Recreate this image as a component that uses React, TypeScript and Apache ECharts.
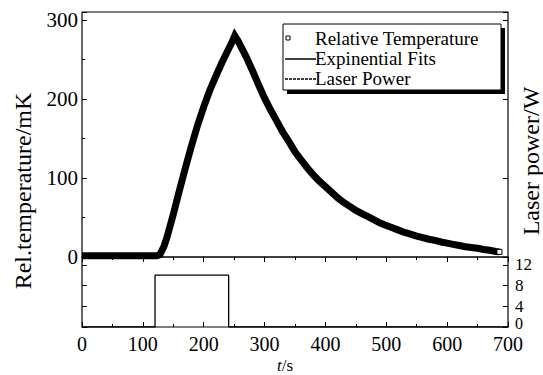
import React, { useEffect, useRef } from 'react';
import * as echarts from 'echarts';

// Relative temperature (mK)
const tempTimes = [0, 30, 60, 90, 110, 123, 128, 135, 140, 150, 160, 170, 180, 190, 200, 210, 220, 230, 240, 246, 251, 256, 262, 270, 280, 290, 300, 310, 320, 330, 340, 350, 360, 370, 380, 390, 400, 410, 420, 430, 440, 450, 460, 470, 480, 490, 500, 510, 520, 530, 540, 550, 560, 570, 580, 590, 600, 610, 620, 630, 640, 650, 660, 670, 680, 686];
const tempValues = [1.5, 1.5, 1.5, 1.5, 1.5, 1.5, 3, 14, 26, 54, 84, 113, 141, 167, 190, 211, 229, 246, 262, 271, 280, 274, 265, 253, 236, 218, 201, 186, 172, 158, 146, 133, 123, 113, 104, 96, 89, 82, 75, 69, 64, 59, 55, 51, 47, 43, 40, 37, 34, 31, 29, 26.5, 24.5, 22.5, 21, 19, 17.5, 16, 14.5, 13, 12, 11, 9.5, 8.5, 7, 6.5];

// Laser power (W)
const laserTimes = [0, 120, 120, 241, 241, 700];
const laserValues = [0, 0, 10, 10, 0, 0];

const xTicks = [0, 100, 200, 300, 400, 500, 600, 700];
const leftTicks = [0, 100, 200, 300];
const rightTicks = [0, 4, 8, 12];

const legendNames = ['Relative Temperature', 'Expinential Fits', 'Laser Power'];

const FONT = 'Liberation Serif';

export default function App() {
  const ref = useRef<HTMLDivElement>(null);
  useEffect(() => {
    if (!ref.current) return;
    const chart = echarts.init(ref.current, null, { renderer: 'svg' });
    const tempData: any[] = tempTimes.map((t, i) => [t, tempValues[i]]);
    const last = tempData.length - 1;
    tempData[last] = {
      value: tempData[last],
      symbol: 'rect',
      symbolSize: 5,
      itemStyle: { color: '#fff', borderColor: '#000', borderWidth: 1 },
    };
    const peakT = tempTimes[tempValues.indexOf(Math.max(...tempValues))];
    const fitData = tempTimes.map((t, i) => [t, tempValues[i]]).filter((d) => d[0] >= peakT);
    const laserData = laserTimes.map((t, i) => [t, laserValues[i]]);

    const tick = { show: true, inside: true, length: 5, lineStyle: { color: '#000', width: 1 } };
    const minor = { show: true, splitNumber: 2, length: 3, lineStyle: { color: '#000', width: 1 } };
    const legendFont = `19px "${FONT}"`;

    const option: any = {
      animation: false,
      backgroundColor: '#fff',
      grid: [
        { left: 82, right: 35, top: 12, height: 245, show: true, borderColor: '#000', borderWidth: 1.2, backgroundColor: 'transparent' },
        { left: 82, right: 35, top: 257, height: 70, show: true, borderColor: '#000', borderWidth: 1.2, backgroundColor: 'transparent' },
      ],
      xAxis: [
        {
          gridIndex: 0, type: 'value', min: 0, max: 700, interval: 100, position: 'top',
          axisLine: { show: false }, axisTick: tick, minorTick: minor, axisLabel: { show: false }, splitLine: { show: false },
        },
        {
          gridIndex: 1, type: 'value', min: 0, max: 700, interval: 100, position: 'bottom',
          axisLine: { show: false }, axisTick: tick, minorTick: minor, splitLine: { show: false },
          axisLabel: { color: '#000', fontFamily: FONT, fontSize: 20, lineHeight: 18, margin: 8, formatter: (v: number) => (xTicks.includes(v) ? String(v) : '') },
        },
      ],
      yAxis: [
        {
          gridIndex: 0, type: 'value', min: 0, max: 310, interval: 100, position: 'left',
          axisLine: { show: false }, axisTick: tick, minorTick: minor, splitLine: { show: false },
          axisLabel: { color: '#000', fontFamily: FONT, fontSize: 21, margin: 4, formatter: (v: number) => (leftTicks.includes(v) ? String(v) : '') },
        },
        {
          gridIndex: 0, type: 'value', min: 0, max: 310, interval: 100, position: 'right',
          axisLine: { show: false }, axisTick: tick, axisLabel: { show: false }, splitLine: { show: false },
        },
        {
          gridIndex: 1, type: 'value', min: 0, max: 13.5, interval: 4, position: 'left',
          axisLine: { show: false }, axisTick: tick, axisLabel: { show: false }, splitLine: { show: false },
        },
        {
          gridIndex: 1, type: 'value', min: 0, max: 13.5, interval: 4, position: 'right',
          axisLine: { show: false }, axisTick: tick, splitLine: { show: false },
          axisLabel: {
            color: '#000', fontFamily: FONT, fontSize: 17, lineHeight: 13, margin: 7,
            formatter: (v: number) => (rightTicks.includes(v) ? (v === 0 ? '{z|0}' : `{a|${v}}`) : ''),
            rich: {
              a: { fontFamily: FONT, fontSize: 17, lineHeight: 13, color: '#000' },
              z: { fontFamily: FONT, fontSize: 16, lineHeight: 12, color: '#000', padding: [0, 0, 7, 0] },
            },
          },
        },
      ],
      series: [
        {
          name: legendNames[0], type: 'line', xAxisIndex: 0, yAxisIndex: 0, data: tempData,
          symbol: 'none', showSymbol: true, clip: true,
          lineStyle: { color: '#000', width: 7, join: 'miter', miterLimit: 10 },
          itemStyle: { color: '#000' },
        },
        {
          name: legendNames[1], type: 'line', xAxisIndex: 0, yAxisIndex: 0, data: fitData,
          symbol: 'none', lineStyle: { color: '#000', width: 1 },
        },
        {
          name: legendNames[2], type: 'line', xAxisIndex: 1, yAxisIndex: 3, data: laserData,
          symbol: 'none', lineStyle: { color: '#000', width: 1.3 },
        },
      ],
      graphic: [
        { type: 'rect', shape: { x: 287, y: 28, width: 218, height: 66 }, style: { fill: '#000' }, z: 10 },
        { type: 'rect', shape: { x: 283, y: 24, width: 218, height: 66 }, style: { fill: '#fff', stroke: '#000', lineWidth: 1 }, z: 11 },
        { type: 'rect', shape: { x: 286, y: 36, width: 4, height: 4 }, style: { fill: '#fff', stroke: '#000', lineWidth: 1 }, z: 12 },
        { type: 'line', shape: { x1: 285, y1: 59, x2: 316, y2: 59 }, style: { stroke: '#000', lineWidth: 1.5 }, z: 12 },
        { type: 'line', shape: { x1: 285, y1: 79, x2: 316, y2: 79 }, style: { stroke: '#000', lineWidth: 1.5, lineDash: [3, 1] }, z: 12 },
        { type: 'text', x: 315, y: 38, z: 12, style: { text: legendNames[0], font: legendFont, lineHeight: 18, fill: '#000', verticalAlign: 'middle' } },
        { type: 'text', x: 315, y: 58, z: 12, style: { text: legendNames[1], font: legendFont, lineHeight: 18, fill: '#000', verticalAlign: 'middle' } },
        { type: 'text', x: 315, y: 78, z: 12, style: { text: legendNames[2], font: legendFont, lineHeight: 18, fill: '#000', verticalAlign: 'middle' } },
        { type: 'text', x: 23, y: 191, rotation: Math.PI / 2, style: { text: 'Rel.temperature/mK', font: `24px "${FONT}"`, fill: '#000', align: 'center', verticalAlign: 'middle' } },
        { type: 'text', x: 531, y: 161, rotation: Math.PI / 2, style: { text: 'Laser power/W', font: `24px "${FONT}"`, fill: '#000', align: 'center', verticalAlign: 'middle' } },
        {
          type: 'text', x: 285, y: 365,
          style: {
            text: '{i|t}/s', font: `17px "${FONT}"`, fill: '#000', align: 'center', verticalAlign: 'middle',
            rich: { i: { fontStyle: 'italic', fontFamily: FONT, fontSize: 17 } },
          },
        },
      ],
    };
    chart.setOption(option);
    return () => chart.dispose();
  }, []);
  return <div ref={ref} style={{ width: 543, height: 375, position: 'absolute', left: 0, top: 0 }} />;
}
